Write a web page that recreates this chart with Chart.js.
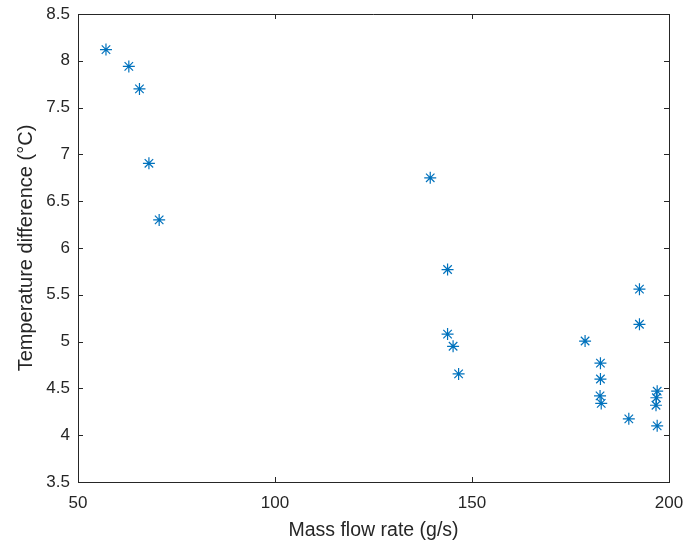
<!DOCTYPE html>
<html>
<head>
<meta charset="utf-8">
<script src="https://cdn.jsdelivr.net/npm/chart.js@4"></script>
<style>
  html, body { margin: 0; padding: 0; background: #fff; }
  #wrap { width: 686px; height: 546px; }
</style>
</head>
<body>
<div id="wrap"><canvas id="flowChart" width="686" height="546"></canvas></div>
<script>
// mass flow rate (g/s) vs temperature difference (C)
var flowRate = [57.1, 62.9, 65.6, 68.0, 70.6,
  139.4, 143.8, 143.8, 145.2, 146.6,
  178.7, 182.6, 182.6, 182.5, 182.8, 189.8,
  192.5, 192.5, 197.0, 196.8, 196.7, 197.0];
var tempDiff = [8.12, 7.94, 7.70, 6.905, 6.30,
  6.75, 5.77, 5.08, 4.95, 4.655,
  5.006, 4.77, 4.60, 4.42, 4.34, 4.175,
  5.56, 5.185, 4.47, 4.40, 4.32, 4.10];
var xTicks = [50, 100, 150, 200];
var yTicks = [3.5, 4, 4.5, 5, 5.5, 6, 6.5, 7, 7.5, 8, 8.5];

var axisColor = '#262626';
var points = flowRate.map(function (x, i) { return { x: x, y: tempDiff[i] }; });

// inward ticks plus top/right edges of the box, like matlab's "box on"
var boxTicks = {
  id: 'boxTicks',
  afterDraw: function (chart) {
    var ctx = chart.ctx, a = chart.chartArea;
    var xs = chart.scales.x, ys = chart.scales.y;
    var len = 5;
    ctx.save();
    ctx.strokeStyle = axisColor;
    ctx.lineWidth = 1;
    ctx.beginPath();
    ctx.moveTo(a.left, a.top + 0.5);
    ctx.lineTo(a.right + 0.5, a.top + 0.5);
    ctx.lineTo(a.right + 0.5, a.bottom);
    xTicks.forEach(function (v) {
      var px = Math.round(xs.getPixelForValue(v)) + 0.5;
      ctx.moveTo(px, a.bottom); ctx.lineTo(px, a.bottom - len);
      ctx.moveTo(px, a.top); ctx.lineTo(px, a.top + len);
    });
    yTicks.forEach(function (v) {
      var py = Math.round(ys.getPixelForValue(v)) + 0.5;
      ctx.moveTo(a.left, py); ctx.lineTo(a.left + len, py);
      ctx.moveTo(a.right, py); ctx.lineTo(a.right - len, py);
    });
    ctx.stroke();
    ctx.restore();
  }
};

var tickFont = { family: 'Liberation Sans, Arial, sans-serif', size: 17 };
var titleFont = { family: 'Liberation Sans, Arial, sans-serif', size: 19.5 };

new Chart(document.getElementById('flowChart').getContext('2d'), {
  type: 'scatter',
  data: {
    datasets: [{
      data: points,
      pointStyle: 'star',
      pointRadius: 6,
      pointHoverRadius: 6,
      borderWidth: 1.2,
      borderColor: '#0072BD',
      backgroundColor: '#0072BD'
    }]
  },
  options: {
    responsive: false,
    animation: false,
    events: [],
    layout: { padding: { left: 0, right: 17, top: 14, bottom: 0 } },
    plugins: { legend: { display: false }, tooltip: { enabled: false } },
    scales: {
      x: {
        type: 'linear',
        min: 50, max: 200,
        afterBuildTicks: function (s) { s.ticks = xTicks.map(function (v) { return { value: v }; }); },
        afterFit: function (s) { s.height = 64; s.paddingLeft = 0; s.paddingRight = 0; },
        grid: { display: false, drawTicks: false },
        border: { display: true, color: axisColor, width: 1 },
        ticks: { color: axisColor, font: tickFont, padding: 11, maxRotation: 0,
          callback: function (v) { return String(v); } },
        title: { display: true, text: 'Mass flow rate (g/s)', color: axisColor, font: titleFont,
          padding: { top: 0, bottom: 4 } }
      },
      y: {
        type: 'linear',
        min: 3.5, max: 8.5,
        afterBuildTicks: function (s) { s.ticks = yTicks.map(function (v) { return { value: v }; }); },
        afterFit: function (s) { s.width = 78; s.paddingTop = 0; s.paddingBottom = 0; },
        grid: { display: false, drawTicks: false },
        border: { display: true, color: axisColor, width: 1 },
        ticks: { color: axisColor, font: tickFont, padding: 8,
          callback: function (v) { return String(v); } },
        title: { display: true, text: 'Temperature difference (°C)', color: axisColor,
          font: { family: 'Liberation Sans, Arial, sans-serif', size: 20 },
          padding: { top: 14, bottom: 0 } }
      }
    }
  },
  plugins: [boxTicks]
});
</script>
</body>
</html>
